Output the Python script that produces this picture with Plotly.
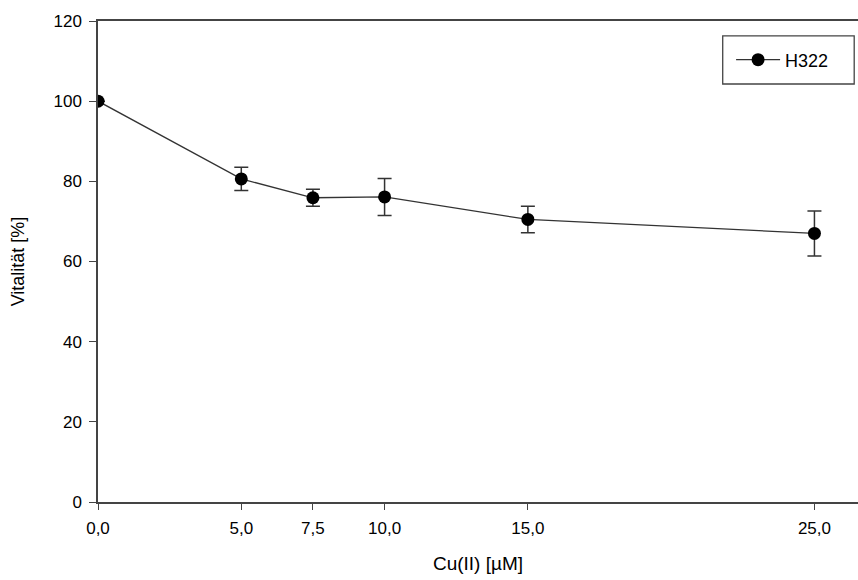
import plotly.graph_objects as go

conc = [0.0, 5.0, 7.5, 10.0, 15.0, 25.0]
vitality = [100.0, 80.6, 75.9, 76.1, 70.5, 67.0]
err = [0.0, 2.9, 2.1, 4.6, 3.3, 5.6]
x_ticks = [0.0, 5.0, 7.5, 10.0, 15.0, 25.0]
x_tick_labels = ["0,0", "5,0", "7,5", "10,0", "15,0", "25,0"]
y_ticks = [0, 20, 40, 60, 80, 100, 120]

axcol = "#444444"
font = "Liberation Sans, Arial, sans-serif"

fig = go.Figure()
fig.add_trace(go.Scatter(
    x=conc, y=vitality, name="H322", mode="lines+markers",
    line=dict(color="#333333", width=1.3),
    marker=dict(color="black", size=13),
    error_y=dict(type="data", array=err, visible=True, color="#333333",
                 thickness=1.5, width=7),
))

# legend frame (pixel box 723..854 x 36..84 converted to paper coords)
fig.add_shape(type="rect", xref="paper", yref="paper",
              x0=0.822, x1=0.995, y0=0.869, y1=0.969,
              line=dict(color=axcol, width=1.3), fillcolor="rgba(0,0,0,0)")

tickfont = dict(family=font, size=17, color="black")

fig.update_layout(
    width=858, height=580,
    margin=dict(l=98, r=0, t=21, b=78),
    paper_bgcolor="white", plot_bgcolor="white",
    font=dict(family=font, size=17, color="black"),
    showlegend=True,
    legend=dict(x=0.833, y=0.919, xanchor="left", yanchor="middle",
                borderwidth=0, bgcolor="rgba(0,0,0,0)",
                font=dict(family=font, size=18, color="black"), itemwidth=44),
    xaxis=dict(range=[0, 26.52], tickvals=x_ticks, ticktext=x_tick_labels,
               tickfont=tickfont,
               showgrid=False, zeroline=False, showline=True, linecolor=axcol,
               linewidth=1.5, mirror=True, ticks="outside", ticklen=6,
               tickcolor=axcol, tickwidth=1.2, ticklabelstandoff=4,
               title=dict(text="Cu(II) [µM]", font=dict(family=font, size=19), standoff=20)),
    yaxis=dict(range=[0, 120], tickvals=y_ticks, tickfont=tickfont,
               showgrid=False, zeroline=False,
               showline=True, linecolor=axcol, linewidth=1.5, ticks="outside",
               ticklen=7, tickcolor=axcol, tickwidth=1.2, ticklabelstandoff=4,
               title=dict(text="Vitalität [%]", font=dict(family=font, size=18), standoff=24)),
)

fig.write_html("out.html")
